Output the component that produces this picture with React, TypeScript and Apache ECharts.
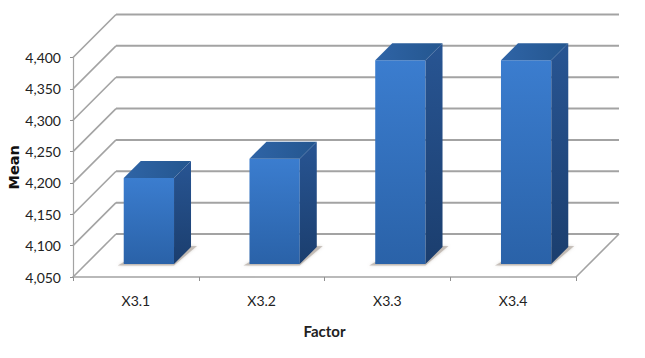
import React, { useEffect, useRef } from "react";
import * as echarts from "echarts";

const categories = ["X3.1", "X3.2", "X3.3", "X3.4"];
const meanValues = [4187, 4218, 4375, 4375];
const yMin = 4050;
const yMax = 4400;
const yStep = 50;
const gridTicks = [4050, 4100, 4150, 4200, 4250, 4300, 4350, 4400];

const WALL = 43;
const BAR_SHIFT = 13;
const BAR_DEPTH = 17;
const FONT = "Lato, sans-serif";

const grad = (a: string, b: string, x2 = 0, y2 = 1) =>
  new echarts.graphic.LinearGradient(0, 0, x2, y2, [
    { offset: 0, color: a },
    { offset: 1, color: b },
  ]);

export default function App() {
  const ref = useRef<HTMLDivElement>(null);
  useEffect(() => {
    const chart = echarts.init(ref.current!, null, { renderer: "svg" });
    const lineStyle = { stroke: "#a3a3a3", lineWidth: 1.6 };
    chart.setOption({
      animation: false,
      backgroundColor: "#ffffff",
      grid: { left: 73, right: 69, top: 57.5, bottom: 81, outerBoundsMode: "none" },
      xAxis: {
        type: "category",
        data: categories,
        name: "Factor",
        nameLocation: "middle",
        nameGap: 46.5,
        nameMoveOverlap: false,
        nameTextStyle: { fontFamily: FONT, fontSize: 15, fontWeight: "bold", color: "#222" },
        axisLine: { lineStyle: { color: "#a3a3a3", width: 1.6 } },
        axisTick: { show: true, length: 4, alignWithLabel: false, lineStyle: { color: "#909090" } },
        axisLabel: { fontFamily: FONT, fontSize: 14, color: "#222", margin: 16 },
        splitLine: { show: false },
      },
      yAxis: {
        type: "value",
        min: yMin,
        max: yMax,
        interval: yStep,
        name: "Mean",
        nameLocation: "middle",
        nameGap: 52,
        nameMoveOverlap: false,
        nameTextStyle: { fontFamily: "'DejaVu Sans', sans-serif", fontSize: 14.5, fontWeight: "bold", color: "#111" },
        axisLine: { show: true, lineStyle: { color: "#a3a3a3", width: 1.2 } },
        axisTick: { show: true, length: 3, lineStyle: { color: "#909090" } },
        axisLabel: {
          fontFamily: FONT,
          fontSize: 14,
          color: "#222",
          margin: 12,
          formatter: (v: number) => v.toLocaleString("en-US"),
        },
        splitLine: { show: false },
      },
      series: [
        {
          type: "custom",
          coordinateSystem: "cartesian2d",
          silent: true,
          z: 1,
          data: gridTicks.map((v) => [0, v]),
          encode: { x: 0, y: 1 },
          renderItem: (params: any, api: any) => {
            const y = api.coord([0, api.value(1)])[1];
            const cs = params.coordSys;
            const left = cs.x;
            const right = cs.x + cs.width;
            const children: any[] = [
              { type: "line", shape: { x1: left, y1: y, x2: left + WALL, y2: y - WALL }, style: lineStyle },
              { type: "line", shape: { x1: left + WALL, y1: y - WALL, x2: right + WALL, y2: y - WALL }, style: { ...lineStyle, lineWidth: 2 } },
            ];
            if (api.value(1) === yMin) {
              children.push({ type: "line", shape: { x1: right, y1: y, x2: right + WALL, y2: y - WALL }, style: lineStyle });
            }
            return { type: "group", children };
          },
        },
        {
          type: "custom",
          coordinateSystem: "cartesian2d",
          silent: true,
          z: 2,
          data: categories.map((c, i) => [i, meanValues[i]]),
          encode: { x: 0, y: 1 },
          renderItem: (params: any, api: any) => {
            const [cx, topY] = api.coord([api.value(0), api.value(1)]);
            const baseY = api.coord([0, yMin])[1] - BAR_SHIFT;
            const band = api.size([1, 0])[0];
            const w = band * 0.4;
            const x0 = cx + BAR_SHIFT - w / 2;
            const x1 = x0 + w;
            const top = topY - BAR_SHIFT;
            const d = BAR_DEPTH;
            return {
              type: "group",
              children: [
                {
                  type: "polygon",
                  shape: { points: [[x0 - 6, baseY + 1.5], [x1, baseY + 1.5], [x1 + d + 6, baseY - d - 1], [x1 + 4, baseY - d - 1], [x1, baseY - 2], [x0, baseY - 2]] },
                  style: { fill: "rgba(165,155,145,0.55)", shadowBlur: 3, shadowColor: "rgba(165,155,145,0.7)" },
                },
                {
                  type: "rect",
                  shape: { x: x0, y: top, width: w, height: baseY - top },
                  style: { fill: grad("#3b7dcf", "#2a62a8") },
                },
                {
                  type: "polygon",
                  shape: { points: [[x0, top], [x0 + d, top - d], [x1 + d, top - d], [x1, top]] },
                  style: { fill: grad("#2f64a6", "#24568f", 1, 0) },
                },
                {
                  type: "polygon",
                  shape: { points: [[x1, top], [x1 + d, top - d], [x1 + d, baseY - d], [x1, baseY]] },
                  style: { fill: grad("#285593", "#1b3e6e") },
                },
              ],
            };
          },
        },
      ],
    });
    return () => chart.dispose();
  }, []);
  return (
    <div
      ref={ref}
      style={{ position: "absolute", left: 0, top: 0, width: 645, height: 358 }}
    />
  );
}
